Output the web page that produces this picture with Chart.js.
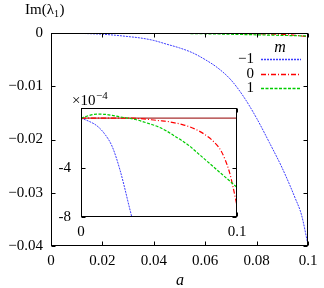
<!DOCTYPE html>
<html>
<head>
<meta charset="utf-8">
<script src="https://cdn.jsdelivr.net/npm/chart.js@4.4.0/dist/chart.umd.min.js"></script>
<style>
  html, body { margin: 0; padding: 0; background: #fff; }
  #wrap { position: relative; width: 324px; height: 288px; }
  #wrap canvas { position: absolute; left: 0; top: 0; }
</style>
</head>
<body>
<div id="wrap">
  <canvas id="mainChart" width="324" height="288"></canvas>
  <canvas id="insetChart" width="324" height="288"></canvas>
</div>
<script>
// values
const aValues = [0, 0.005, 0.01, 0.015, 0.02, 0.025, 0.03, 0.035, 0.04, 0.045, 0.05,
    0.055, 0.06, 0.065, 0.07, 0.075, 0.08, 0.085, 0.09, 0.095, 0.0975, 0.1];
const imMinus1 = [0, -0.000025, -0.00006, -0.000125, -0.00023, -0.00042, -0.00067, -0.00095, -0.0014, -0.0021, -0.0028,
    -0.0037, -0.0050, -0.0066, -0.0088, -0.0120, -0.0160, -0.0206, -0.0254, -0.0310, -0.0342, -0.0398];
const im0 = [0, 0, 0, 0, 0, 0, 0, -0.000002, -0.000006, -0.000013, -0.00002,
    -0.000026, -0.000038, -0.000052, -0.000072, -0.0001, -0.000138, -0.00019, -0.00027, -0.00043, -0.00056, -0.00071];
const im1 = [0, 0.000021, 0.000032, 0.000031, 0.000022, 0.00001, 0, -0.000011, -0.00003, -0.00005, -0.000073,
    -0.000105, -0.000145, -0.000185, -0.00023, -0.000285, -0.00034, -0.000395, -0.00045, -0.000505, -0.000533, -0.00056];
const zeroLineX = [0, 0.1];
const zeroLineY = [0, 0];

const legendLabels = ['\u22121', '0', '1'];
const xTicks = [0, 0.02, 0.04, 0.06, 0.08, 0.1];
const xTickLabels = ['0', '0.02', '0.04', '0.06', '0.08', '0.1'];
const yTicks = [0, -0.01, -0.02, -0.03, -0.04];
const yTickLabels = ['0', '\u22120.01', '\u22120.02', '\u22120.03', '\u22120.04'];
const insetXTicks = [0, 0.1];
const insetXTickLabels = ['0', '0.1'];
const insetYTicks = [-4, -8];
const insetYTickLabels = ['-4', '-8'];
const insetFactor = 1e4;

const serif = '"Liberation Serif", "DejaVu Serif", serif';
const colors = { m1: '#3c3cff', m0: '#ff0000', p1: '#00cc00', zero: '#a83030' };

const points = (xs, ys, k = 1) => xs.map((x, i) => ({ x: x, y: ys[i] * k }));

const seriesSets = (k) => [
    { data: points(zeroLineX, zeroLineY), borderColor: colors.zero, borderWidth: 1.2, order: 4 },
    { data: points(aValues, imMinus1, k), borderColor: colors.m1, borderWidth: 1, borderDash: [2, 1], order: 3 },
    { data: points(aValues, im0, k), borderColor: colors.m0, borderWidth: 1.2, borderDash: [5, 2, 1, 2], order: 2 },
    { data: points(aValues, im1, k), borderColor: colors.p1, borderWidth: 1.2, borderDash: [3, 1.5], order: 1 }
].map(d => Object.assign(d, { pointRadius: 0, fill: false, cubicInterpolationMode: 'monotone' }));

const tickFont = { family: serif, size: 15 };

// inward ticks on all four sides and the black frame
const boxTicks = {
    id: 'boxTicks',
    afterDatasetsDraw(chart, args, opts) {
        const { ctx, chartArea, scales: { x, y } } = chart;
        const l = Math.round(chartArea.left) + 0.5, r = Math.round(chartArea.right) - 0.5;
        const t = Math.round(chartArea.top) + 0.5, b = Math.round(chartArea.bottom) - 0.5;
        ctx.save();
        ctx.strokeStyle = '#000';
        ctx.lineWidth = 1;
        ctx.beginPath();
        opts.xs.forEach(v => {
            const px = Math.round(x.getPixelForValue(v)) + 0.5;
            ctx.moveTo(px, b); ctx.lineTo(px, b - opts.len);
            ctx.moveTo(px, t); ctx.lineTo(px, t + opts.len);
        });
        opts.ys.forEach(v => {
            const py = Math.round(y.getPixelForValue(v)) + 0.5;
            ctx.moveTo(l, py); ctx.lineTo(l + opts.len, py);
            ctx.moveTo(r, py); ctx.lineTo(r - opts.len, py);
        });
        ctx.stroke();
        ctx.strokeRect(l, t, r - l, b - t);
        ctx.restore();
    }
};

const mainText = {
    id: 'mainText',
    afterDraw(chart) {
        const { ctx } = chart;
        const sets = chart.data.datasets;
        ctx.save();
        ctx.fillStyle = '#000';
        ctx.textBaseline = 'alphabetic';
        // y label
        ctx.font = '15px ' + serif;
        ctx.textAlign = 'left';
        let x0 = 25;
        ctx.fillText('Im(\u03bb', x0, 14);
        x0 += ctx.measureText('Im(\u03bb').width;
        ctx.font = '10px ' + serif;
        ctx.fillText('1', x0, 17);
        x0 += ctx.measureText('1').width + 0.5;
        ctx.font = '15px ' + serif;
        ctx.fillText(')', x0, 14);
        // x label
        ctx.font = 'italic 16px ' + serif;
        ctx.textAlign = 'center';
        ctx.fillText('a', 180, 285);
        // legend
        ctx.fillText('m', 280, 52);
        ctx.font = '15px ' + serif;
        ctx.textAlign = 'right';
        ctx.textBaseline = 'middle';
        [59, 74, 88].forEach((yy, i) => {
            const ds = sets[i + 1];
            ctx.fillText(legendLabels[i], 254, yy);
            ctx.save();
            ctx.strokeStyle = ds.borderColor;
            ctx.lineWidth = 1.3;
            ctx.setLineDash(ds.borderDash);
            ctx.beginPath();
            ctx.moveTo(261, yy + 0.5);
            ctx.lineTo(301, yy + 0.5);
            ctx.stroke();
            ctx.restore();
        });
        ctx.restore();
    }
};

new Chart(document.getElementById('mainChart'), {
    type: 'line',
    data: { datasets: seriesSets(1) },
    options: {
        responsive: false,
        animation: false,
        layout: { padding: { top: 33, right: 16, left: 0, bottom: 0 } },
        plugins: { legend: { display: false }, tooltip: { enabled: false }, boxTicks: { xs: xTicks, ys: yTicks, len: 4 } },
        scales: {
            x: {
                type: 'linear', min: 0, max: 0.1,
                afterBuildTicks: s => { s.ticks = xTicks.map(v => ({ value: v })); },
                afterFit: s => { s.height = 42; },
                ticks: { callback: (v, i) => xTickLabels[i], font: tickFont, color: '#000', padding: 6, maxRotation: 0, autoSkip: false },
                grid: { display: false, drawTicks: false },
                border: { display: false }
            },
            y: {
                type: 'linear', min: -0.04, max: 0,
                afterBuildTicks: s => { s.ticks = yTicks.map(v => ({ value: v })); },
                afterFit: s => { s.width = 51; },
                ticks: { callback: (v, i) => yTickLabels[i], font: tickFont, color: '#000', padding: 8, autoSkip: false },
                grid: { display: false, drawTicks: false },
                border: { display: false }
            }
        }
    },
    plugins: [boxTicks, mainText]
});

const insetExtras = {
    id: 'insetExtras',
    beforeDraw(chart) {
        const { ctx, chartArea: { left, right, top, bottom } } = chart;
        ctx.save();
        ctx.fillStyle = '#fff';
        ctx.fillRect(left, top, right - left, bottom - top);
        ctx.restore();
    },
    afterDraw(chart) {
        const { ctx } = chart;
        ctx.save();
        ctx.fillStyle = '#000';
        ctx.textAlign = 'left';
        ctx.textBaseline = 'alphabetic';
        ctx.font = '15px ' + serif;
        ctx.fillText('\u00d710', 72, 105);
        const w = ctx.measureText('\u00d710').width;
        ctx.font = '11px ' + serif;
        ctx.fillText('\u22124', 72 + w + 0.5, 99);
        ctx.restore();
    }
};

new Chart(document.getElementById('insetChart'), {
    type: 'line',
    data: { datasets: seriesSets(insetFactor) },
    options: {
        responsive: false,
        animation: false,
        layout: { padding: { top: 108, right: 87, left: 59, bottom: 51 } },
        plugins: { legend: { display: false }, tooltip: { enabled: false }, boxTicks: { xs: insetXTicks, ys: insetYTicks, len: 4 } },
        scales: {
            x: {
                type: 'linear', min: 0, max: 0.1,
                afterBuildTicks: s => { s.ticks = insetXTicks.map(v => ({ value: v })); },
                afterFit: s => { s.height = 20; },
                ticks: { callback: (v, i) => insetXTickLabels[i], font: tickFont, color: '#000', padding: 6, maxRotation: 0, autoSkip: false },
                grid: { display: false, drawTicks: false },
                border: { display: false }
            },
            y: {
                type: 'linear', min: -8, max: 0.82,
                afterBuildTicks: s => { s.ticks = insetYTicks.map(v => ({ value: v })); },
                afterFit: s => { s.width = 22; },
                ticks: { callback: (v, i) => insetYTickLabels[i], font: tickFont, color: '#000', padding: 10, autoSkip: false },
                grid: { display: false, drawTicks: false },
                border: { display: false }
            }
        }
    },
    plugins: [boxTicks, insetExtras]
});
</script>
</body>
</html>
